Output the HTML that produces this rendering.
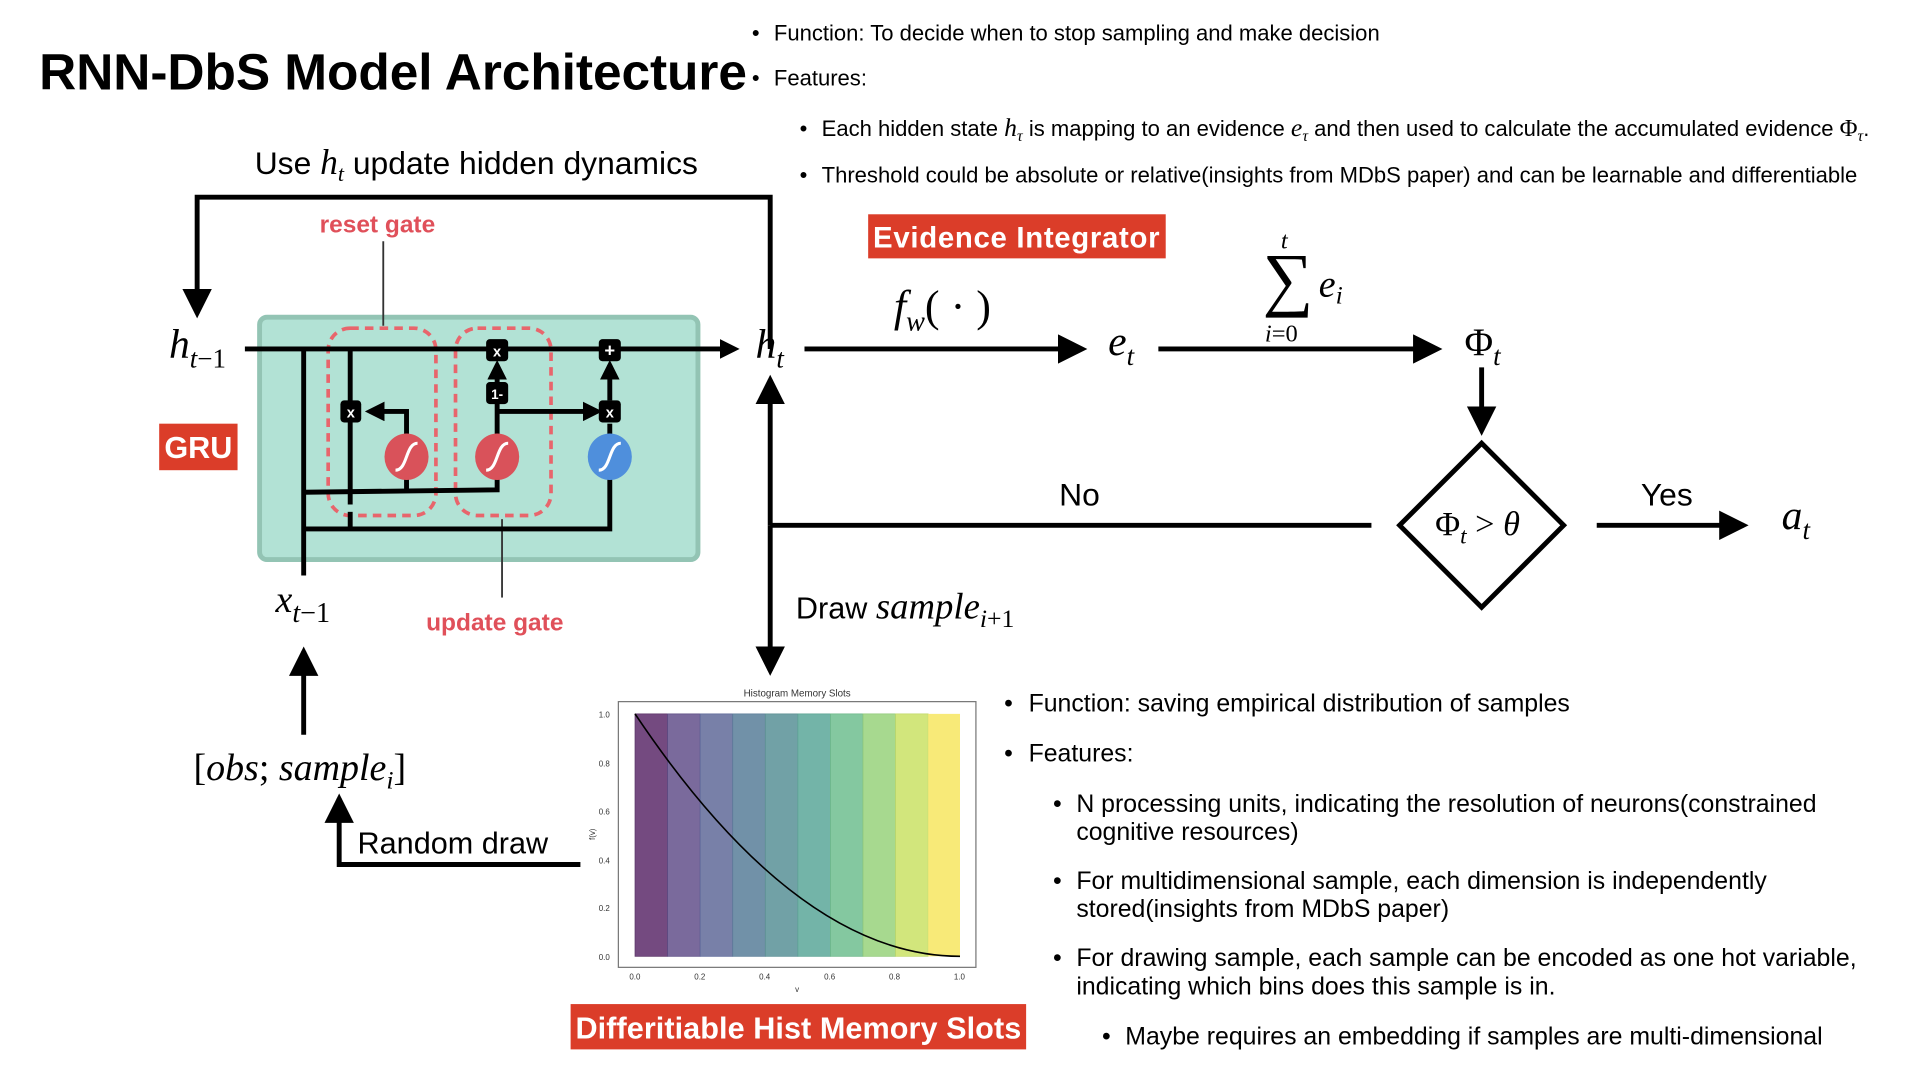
<!DOCTYPE html>
<html><head><meta charset="utf-8"><style>
html,body{margin:0;padding:0;background:#fff;width:1920px;height:1080px;overflow:hidden}
svg{display:block}
.s{font-family:"Liberation Sans",sans-serif}
.m{font-family:"Liberation Serif",serif;font-style:italic}
.r{font-family:"Liberation Serif",serif}
</style></head><body>
<svg width="1920" height="1080" viewBox="0 0 1568 882" xmlns="http://www.w3.org/2000/svg">
<defs>
<marker id="a" markerWidth="6" markerHeight="6" refX="5" refY="3" orient="auto" markerUnits="strokeWidth"><path d="M0,0L6,3L0,6z" fill="#000"/></marker>
<marker id="b" markerWidth="4" markerHeight="4" refX="3" refY="2" orient="auto" markerUnits="strokeWidth"><path d="M0,0L4,2L0,4z" fill="#000"/></marker>
</defs>
<text x="32" y="73" class="s" font-size="42" font-weight="bold" textLength="578">RNN-DbS Model Architecture</text>
<g class="s" font-size="18">
<text x="614" y="33">•</text><text x="632" y="33">Function: To decide when to stop sampling and make decision</text>
<text x="614" y="70">•</text><text x="632" y="70">Features:</text>
<text x="653" y="111">•</text><text x="671" y="111">Each hidden state <tspan class="m" font-size="21">h</tspan><tspan class="m" font-size="13" dy="4">τ</tspan><tspan dy="-4"> is mapping to an evidence </tspan><tspan class="m" font-size="21">e</tspan><tspan class="m" font-size="13" dy="4">τ</tspan><tspan dy="-4"> and then used to calculate the accumulated evidence </tspan><tspan class="r" font-size="20">Φ</tspan><tspan class="m" font-size="13" dy="4">τ</tspan><tspan dy="-4">.</tspan></text>
<text x="653" y="149">•</text><text x="671" y="149">Threshold could be absolute or relative(insights from MDbS paper) and can be learnable and differentiable</text>
</g>
<text x="208" y="142" class="s" font-size="26">Use <tspan class="m" font-size="29">h</tspan><tspan class="m" font-size="18" dy="6">t</tspan><tspan dy="-6"> update hidden dynamics</tspan></text>
<polyline points="629,285 629,161 161,161 161,256" fill="none" stroke="#000" stroke-width="4" marker-end="url(#a)"/>
<rect x="212" y="259" width="358" height="198" rx="6" fill="#b2e2d5" stroke="#93c4b4" stroke-width="4"/>
<rect x="268" y="268" width="88" height="153" rx="18" fill="none" stroke="#e8656c" stroke-width="3" stroke-dasharray="7,5"/>
<rect x="372" y="268" width="78" height="153" rx="18" fill="none" stroke="#e8656c" stroke-width="3" stroke-dasharray="7,5"/>
<line x1="313" y1="197" x2="313" y2="266" stroke="#333" stroke-width="1.5"/>
<line x1="410" y1="424" x2="410" y2="488" stroke="#333" stroke-width="1.5"/>
<text x="261" y="190" class="s" font-size="20" font-weight="bold" fill="#e0505a">reset gate</text>
<text x="348" y="515" class="s" font-size="20" font-weight="bold" fill="#e0505a">update gate</text>
<g fill="none" stroke="#000" stroke-width="4">
<line x1="200" y1="285" x2="600" y2="285" marker-end="url(#b)"/>
<line x1="248" y1="285" x2="248" y2="470"/>
<line x1="286" y1="285" x2="286" y2="412"/>
<line x1="286" y1="418" x2="286" y2="432"/>
<polyline points="248,402 406,400 406,385"/>
<line x1="332" y1="400" x2="332" y2="390"/>
<polyline points="248,432 498,432 498,390"/>
<polyline points="332,356 332,336 302,336" marker-end="url(#b)"/>
<line x1="406" y1="356" x2="406" y2="328"/>
<line x1="406" y1="313" x2="406" y2="298" marker-end="url(#b)"/>
<line x1="406" y1="336" x2="488" y2="336" marker-end="url(#b)"/>
<line x1="498" y1="356" x2="498" y2="346"/>
<line x1="498" y1="327" x2="498" y2="298" marker-end="url(#b)"/>
</g>
<g class="s" font-size="12" font-weight="bold" fill="#fff" text-anchor="middle">
<rect x="278" y="327" width="17" height="18" rx="3" fill="#000"/><text x="286.5" y="341">x</text>
<rect x="397" y="277" width="18" height="18" rx="3" fill="#000"/><text x="406" y="291">x</text>
<rect x="397" y="312" width="18" height="18" rx="3" fill="#000"/><text x="406" y="326" font-size="11">1-</text>
<rect x="489" y="277" width="18" height="18" rx="3" fill="#000"/><text x="498" y="291" font-size="15">+</text>
<rect x="489" y="327" width="18" height="18" rx="3" fill="#000"/><text x="498" y="341">x</text>
</g>
<g>
<ellipse cx="332" cy="373" rx="18" ry="19" fill="#d9525a"/>
<ellipse cx="406" cy="373" rx="18" ry="19" fill="#d9525a"/>
<ellipse cx="498" cy="373" rx="18" ry="19" fill="#4f8fdc"/>
<g fill="none" stroke="#fff" stroke-width="2.5"><path d="M323,384 C333,384 331,362 341,362"/><path d="M397,384 C407,384 405,362 415,362"/><path d="M489,384 C499,384 497,362 507,362"/></g>
</g>
<rect x="130" y="346" width="64" height="38" fill="#db3d29"/>
<text x="162" y="374" class="s" font-size="25" font-weight="bold" fill="#fff" text-anchor="middle">GRU</text>
<text x="138" y="292" class="m" font-size="34">h<tspan font-size="22" dy="8">t</tspan><tspan class="r" font-style="normal" font-size="22">−1</tspan></text>
<text x="617" y="292" class="m" font-size="34">h<tspan font-size="22" dy="8">t</tspan></text>
<text x="225" y="500" class="m" font-size="31">x<tspan font-size="23" dy="8">t</tspan><tspan class="r" font-style="normal" font-size="23">−1</tspan></text>
<line x1="248" y1="600" x2="248" y2="532" stroke="#000" stroke-width="4" marker-end="url(#a)"/>
<text x="158" y="637" class="r" font-size="31">[<tspan class="m">obs</tspan>; <tspan class="m">sample</tspan><tspan class="m" font-size="21" dy="7">i</tspan><tspan dy="-7">]</tspan></text>
<polyline points="474,706 277,706 277,652" fill="none" stroke="#000" stroke-width="4" marker-end="url(#a)"/>
<text x="292" y="697" class="s" font-size="25">Random draw</text>
<line x1="629" y1="429" x2="629" y2="310" stroke="#000" stroke-width="4" marker-end="url(#a)"/>
<line x1="629" y1="429" x2="629" y2="548" stroke="#000" stroke-width="4" marker-end="url(#a)"/>
<line x1="629" y1="429" x2="1120" y2="429" stroke="#000" stroke-width="4"/>
<text x="865" y="413" class="s" font-size="26">No</text>
<text x="650" y="505" class="s" font-size="25">Draw <tspan class="m" font-size="30">sample</tspan><tspan class="r" font-style="italic" font-size="21" dy="7">i</tspan><tspan class="r" font-size="21">+1</tspan></text>
<rect x="709" y="175" width="243" height="36" fill="#db3d29"/>
<text x="830" y="202" class="s" font-size="24" font-weight="bold" fill="#fff" text-anchor="middle" textLength="234">Evidence Integrator</text>
<line x1="657" y1="285" x2="884" y2="285" stroke="#000" stroke-width="4" marker-end="url(#a)"/>
<text x="730" y="262" class="m" font-size="36">f<tspan font-size="23" dy="8">w</tspan><tspan class="r" font-style="normal" dy="-8">( · )</tspan></text>
<text x="905" y="290" class="m" font-size="34">e<tspan font-size="22" dy="8">t</tspan></text>
<line x1="946" y1="285" x2="1174" y2="285" stroke="#000" stroke-width="4" marker-end="url(#a)"/>
<text x="1046" y="203" class="m" font-size="20">t</text>
<text x="1031" y="247" class="r" font-size="58">∑</text>
<text x="1077" y="242" class="m" font-size="31">e<tspan font-size="21" dy="6">i</tspan></text>
<text x="1033" y="279" class="r" font-size="20"><tspan font-style="italic">i</tspan>=0</text>
<text x="1196" y="290" class="r" font-size="32">Φ<tspan class="m" font-size="22" dy="8">t</tspan></text>
<line x1="1210" y1="300" x2="1210" y2="352" stroke="#000" stroke-width="4" marker-end="url(#a)"/>
<polygon points="1210,362 1277,429 1210,496 1143,429" fill="none" stroke="#000" stroke-width="4"/>
<text x="1172" y="437" class="r" font-size="28">Φ<tspan class="m" font-size="19" dy="7">t</tspan><tspan dy="-7"> &gt; </tspan><tspan class="m">θ</tspan></text>
<line x1="1304" y1="429" x2="1424" y2="429" stroke="#000" stroke-width="4" marker-end="url(#a)"/>
<text x="1340" y="413" class="s" font-size="26">Yes</text>
<text x="1455" y="432" class="m" font-size="34">a<tspan font-size="22" dy="8">t</tspan></text>
<text x="651" y="569" class="s" font-size="8" text-anchor="middle" fill="#333">Histogram Memory Slots</text>
<rect x="505" y="573" width="292" height="217" fill="#fff" stroke="#777" stroke-width="1"/>
<g stroke-width="0.6">
<rect x="518.6" y="583" width="26.6" height="198" fill="#744a80" stroke="#5a3366"/>
<rect x="545.2" y="583" width="26.6" height="198" fill="#7a6a9c" stroke="#5d4d85"/>
<rect x="571.8" y="583" width="26.6" height="198" fill="#7880a8" stroke="#5d6799"/>
<rect x="598.4" y="583" width="26.6" height="198" fill="#7191a8" stroke="#5a7c97"/>
<rect x="625" y="583" width="26.6" height="198" fill="#71a1a6" stroke="#5a8e92"/>
<rect x="651.6" y="583" width="26.6" height="198" fill="#73b4a8" stroke="#5aa292"/>
<rect x="678.2" y="583" width="26.6" height="198" fill="#84c8a0" stroke="#6cb688"/>
<rect x="704.8" y="583" width="26.6" height="198" fill="#a7d98f" stroke="#90c878"/>
<rect x="731.4" y="583" width="26.6" height="198" fill="#d2e67c" stroke="#c0d868"/>
<rect x="758" y="583" width="26" height="198" fill="#f8ea78"/>
</g>
<path d="M518.6,583 Q651.3,781 784,781" fill="none" stroke="#000" stroke-width="1.3"/>
<g class="s" font-size="6.5" fill="#333">
<text x="489" y="586">1.0</text><text x="489" y="626">0.8</text><text x="489" y="665">0.6</text><text x="489" y="705">0.4</text><text x="489" y="744">0.2</text><text x="489" y="784">0.0</text>
<text x="514" y="800">0.0</text><text x="567" y="800">0.2</text><text x="620" y="800">0.4</text><text x="673" y="800">0.6</text><text x="726" y="800">0.8</text><text x="779" y="800">1.0</text>
<text x="651" y="810" text-anchor="middle">v</text>
<text x="486" y="686" transform="rotate(-90 486 686)">f(v)</text>
</g>
<rect x="466" y="820" width="372" height="37" fill="#db3d29"/>
<text x="652" y="848" class="s" font-size="25" font-weight="bold" fill="#fff" text-anchor="middle" textLength="364">Differitiable Hist Memory Slots</text>
<g class="s" font-size="20.3">
<text x="820" y="581">•</text><text x="840" y="581">Function: saving empirical distribution of samples</text>
<text x="820" y="622">•</text><text x="840" y="622">Features:</text>
<text x="860" y="663">•</text><text x="879" y="663">N processing units, indicating the resolution of neurons(constrained</text>
<text x="879" y="686">cognitive resources)</text>
<text x="860" y="726">•</text><text x="879" y="726">For multidimensional sample, each dimension is independently</text>
<text x="879" y="749">stored(insights from MDbS paper)</text>
<text x="860" y="789">•</text><text x="879" y="789">For drawing sample, each sample can be encoded as one hot variable,</text>
<text x="879" y="812">indicating which bins does this sample is in.</text>
<text x="900" y="853">•</text><text x="919" y="853">Maybe requires an embedding if samples are multi-dimensional</text>
</g>
</svg>
</body></html>
